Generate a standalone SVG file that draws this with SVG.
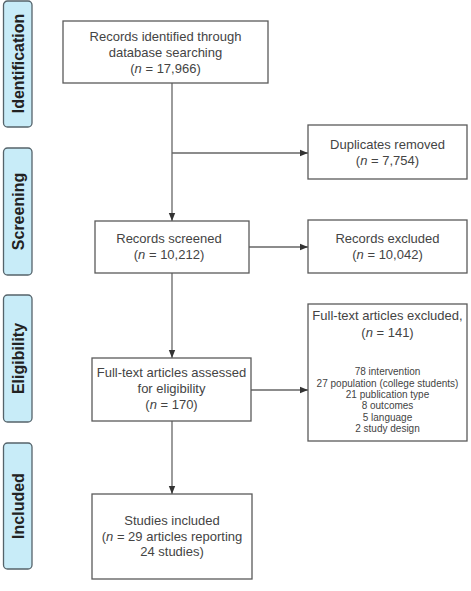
<svg xmlns="http://www.w3.org/2000/svg" width="471" height="591" viewBox="0 0 471 591">
<style>
.box{fill:#fff;stroke:#5a5a5a;stroke-width:1.3}
.lab{fill:#c8ecf8;stroke:#55636a;stroke-width:1.3}
.t{font-family:"Liberation Sans",Arial,sans-serif;font-size:13px;fill:#444;text-anchor:middle}
.s{font-family:"Liberation Sans",Arial,sans-serif;font-size:10px;fill:#444;text-anchor:middle}
.lt{font-family:"Liberation Sans",Arial,sans-serif;font-size:16px;font-weight:bold;fill:#222;text-anchor:middle}
.c{stroke:#666;stroke-width:1.3;fill:none}
</style>
<defs>
<marker id="ah" viewBox="0 0 8 8" refX="8" refY="4" markerWidth="8" markerHeight="8" markerUnits="userSpaceOnUse" orient="auto">
<path d="M0,0.8 L8,4 L0,7.2 Z" fill="#333"/>
</marker>
</defs>
<g id="label-identification"><rect class="lab" x="3.5" y="1" width="28.5" height="126" rx="4"/><text class="lt" transform="translate(23.5,63.5) rotate(-90)">Identification</text></g>
<g id="label-screening"><rect class="lab" x="3.5" y="148" width="28.5" height="127" rx="4"/><text class="lt" transform="translate(23.5,211.5) rotate(-90)">Screening</text></g>
<g id="label-eligibility"><rect class="lab" x="3.5" y="295" width="28.5" height="127" rx="4"/><text class="lt" transform="translate(23.5,358.5) rotate(-90)">Eligibility</text></g>
<g id="label-included"><rect class="lab" x="3.5" y="443" width="28.5" height="126" rx="4"/><text class="lt" transform="translate(23.5,506) rotate(-90)">Included</text></g>
<g id="connectors">
<path class="c" d="M172,83 V221" marker-end="url(#ah)"/>
<path class="c" d="M172,153 H308" marker-end="url(#ah)"/>
<path class="c" d="M249,247 H308" marker-end="url(#ah)"/>
<path class="c" d="M172,273 V358" marker-end="url(#ah)"/>
<path class="c" d="M251,390 H308" marker-end="url(#ah)"/>
<path class="c" d="M172,421 V494" marker-end="url(#ah)"/>
</g>
<g id="identified"><rect class="box" x="63" y="21" width="205" height="62"/>
<text class="t" x="165.5" y="40.5">Records identified through</text>
<text class="t" x="165.5" y="56.5">database searching</text>
<text class="t" x="165.5" y="72.5">(<tspan font-style="italic">n</tspan> = 17,966)</text></g>
<g id="duplicates"><rect class="box" x="308" y="125" width="159" height="54"/>
<text class="t" x="387.5" y="149">Duplicates removed</text>
<text class="t" x="387.5" y="165">(<tspan font-style="italic">n</tspan> = 7,754)</text></g>
<g id="screened"><rect class="box" x="95" y="221" width="154" height="52"/>
<text class="t" x="169" y="243">Records screened</text>
<text class="t" x="169" y="259">(<tspan font-style="italic">n</tspan> = 10,212)</text></g>
<g id="excluded"><rect class="box" x="308" y="220" width="159" height="53"/>
<text class="t" x="387.5" y="243">Records excluded</text>
<text class="t" x="387.5" y="259">(<tspan font-style="italic">n</tspan> = 10,042)</text></g>
<g id="fulltext-excluded"><rect class="box" x="308" y="304" width="159" height="137"/>
<text class="t" x="387.5" y="320">Full-text articles excluded,</text>
<text class="t" x="387.5" y="337">(<tspan font-style="italic">n</tspan> = 141)</text>
<text class="s" x="387.5" y="375.3">78 intervention</text>
<text class="s" x="387.5" y="386.6">27 population (college students)</text>
<text class="s" x="387.5" y="397.9">21 publication type</text>
<text class="s" x="387.5" y="409.2">8 outcomes</text>
<text class="s" x="387.5" y="420.5">5 language</text>
<text class="s" x="387.5" y="431.8">2 study design</text></g>
<g id="assessed"><rect class="box" x="92" y="358" width="159" height="63"/>
<text class="t" x="171.5" y="377">Full-text articles assessed</text>
<text class="t" x="171.5" y="393">for eligibility</text>
<text class="t" x="171.5" y="409">(<tspan font-style="italic">n</tspan> = 170)</text></g>
<g id="included"><rect class="box" x="92" y="494" width="160" height="85"/>
<text class="t" x="172" y="525">Studies included</text>
<text class="t" x="172" y="541">(<tspan font-style="italic">n</tspan> = 29 articles reporting</text>
<text class="t" x="172" y="556">24 studies)</text></g>
</svg>
